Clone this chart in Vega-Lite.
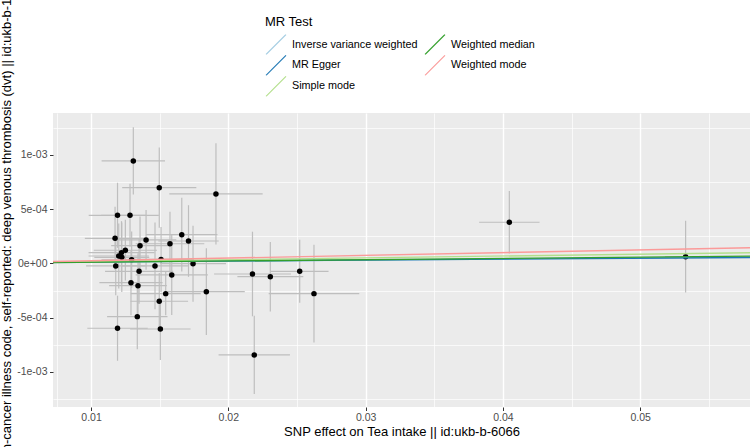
{
  "$schema": "https://vega.github.io/schema/vega-lite/v6.json",
  "width": 697,
  "height": 294,
  "autosize": {"type": "none"},
  "padding": {"left": 53, "top": 113, "right": 0, "bottom": 40},
  "background": "white",
  "config": {
    "view": {"fill": "#EBEBEB", "stroke": null},
    "font": "Liberation Sans",
    "axis": {
      "domain": false,
      "tickSize": 3.5,
      "tickColor": "#333333",
      "tickWidth": 1,
      "labelColor": "#4D4D4D",
      "labelFont": "Liberation Sans",
      "labelFontSize": 10.5,
      "titleFont": "Liberation Sans",
      "titleFontSize": 13,
      "titleFontWeight": "normal",
      "titleColor": "black",
      "gridColor": "white"
    }
  },
  "resolve": {"axis": {"y": "independent"}},
  "datasets": {
    "snps": [
      {"x": 0.01308, "y": 0.000945, "xlo": 0.01077, "xhi": 0.01539, "ylo": 0.000635, "yhi": 0.001255},
      {"x": 0.01497, "y": 0.000699, "xlo": 0.01227, "xhi": 0.01767, "ylo": 0.000329, "yhi": 0.001069},
      {"x": 0.0191, "y": 0.000641, "xlo": 0.0157, "xhi": 0.0225, "ylo": 0.000174, "yhi": 0.001108},
      {"x": 0.01193, "y": 0.000444, "xlo": 0.00983, "xhi": 0.01403, "ylo": 0.000144, "yhi": 0.000744},
      {"x": 0.01284, "y": 0.000444, "xlo": 0.01074, "xhi": 0.01494, "ylo": 0.000154, "yhi": 0.000734},
      {"x": 0.01175, "y": 0.000232, "xlo": 0.00955, "xhi": 0.01395, "ylo": -0.000058, "yhi": 0.000522},
      {"x": 0.01401, "y": 0.000217, "xlo": 0.01181, "xhi": 0.01621, "ylo": -0.000058, "yhi": 0.000492},
      {"x": 0.01357, "y": 0.000164, "xlo": 0.01147, "xhi": 0.01567, "ylo": -0.000106, "yhi": 0.000434},
      {"x": 0.01661, "y": 0.000265, "xlo": 0.01401, "xhi": 0.01921, "ylo": -0.000075, "yhi": 0.000605},
      {"x": 0.01575, "y": 0.000182, "xlo": 0.01325, "xhi": 0.01825, "ylo": -0.000113, "yhi": 0.000477},
      {"x": 0.0171, "y": 0.000207, "xlo": 0.0149, "xhi": 0.0193, "ylo": -0.000123, "yhi": 0.000537},
      {"x": 0.0125, "y": 0.000122, "xlo": 0.0102, "xhi": 0.0148, "ylo": -0.000158, "yhi": 0.000402},
      {"x": 0.01222, "y": 0.0001, "xlo": 0.00982, "xhi": 0.01462, "ylo": -0.00019, "yhi": 0.00039},
      {"x": 0.01202, "y": 0.000069, "xlo": 0.00982, "xhi": 0.01422, "ylo": -0.000231, "yhi": 0.000369},
      {"x": 0.01224, "y": 0.000057, "xlo": 0.01024, "xhi": 0.01424, "ylo": -0.000263, "yhi": 0.000377},
      {"x": 0.01296, "y": 0.000034, "xlo": 0.01076, "xhi": 0.01516, "ylo": -0.000226, "yhi": 0.000294},
      {"x": 0.0151, "y": 0.000037, "xlo": 0.0127, "xhi": 0.0175, "ylo": -0.000263, "yhi": 0.000337},
      {"x": 0.0118, "y": -0.000023, "xlo": 0.00964, "xhi": 0.01396, "ylo": -0.000293, "yhi": 0.000247},
      {"x": 0.0135, "y": -0.000072, "xlo": 0.01102, "xhi": 0.01598, "ylo": -0.000372, "yhi": 0.000228},
      {"x": 0.01466, "y": -0.000023, "xlo": 0.01226, "xhi": 0.01706, "ylo": -0.000423, "yhi": 0.000377},
      {"x": 0.01743, "y": -0.000002, "xlo": 0.01503, "xhi": 0.01983, "ylo": -0.000352, "yhi": 0.000348},
      {"x": 0.01588, "y": -0.000106, "xlo": 0.01325, "xhi": 0.01851, "ylo": -0.000476, "yhi": 0.000264},
      {"x": 0.01291, "y": -0.000177, "xlo": 0.01061, "xhi": 0.01521, "ylo": -0.000477, "yhi": 0.000123},
      {"x": 0.01342, "y": -0.000205, "xlo": 0.01132, "xhi": 0.01552, "ylo": -0.000505, "yhi": 0.000095},
      {"x": 0.01497, "y": -0.000348, "xlo": 0.01287, "xhi": 0.01707, "ylo": -0.000608, "yhi": -0.000088},
      {"x": 0.01544, "y": -0.000278, "xlo": 0.01289, "xhi": 0.01799, "ylo": -0.000478, "yhi": -0.000078},
      {"x": 0.0184, "y": -0.00026, "xlo": 0.0156, "xhi": 0.0212, "ylo": -0.00066, "yhi": 0.00014},
      {"x": 0.02176, "y": -0.000097, "xlo": 0.01896, "xhi": 0.02456, "ylo": -0.000487, "yhi": 0.000293},
      {"x": 0.02306, "y": -0.000122, "xlo": 0.02066, "xhi": 0.02546, "ylo": -0.000442, "yhi": 0.000198},
      {"x": 0.0252, "y": -0.000072, "xlo": 0.0231, "xhi": 0.0273, "ylo": -0.000362, "yhi": 0.000218},
      {"x": 0.02624, "y": -0.000278, "xlo": 0.02294, "xhi": 0.02954, "ylo": -0.000728, "yhi": 0.000172},
      {"x": 0.01337, "y": -0.00049, "xlo": 0.01117, "xhi": 0.01557, "ylo": -0.00079, "yhi": -0.00019},
      {"x": 0.01193, "y": -0.000597, "xlo": 0.00973, "xhi": 0.01413, "ylo": -0.000897, "yhi": -0.000297},
      {"x": 0.01505, "y": -0.000604, "xlo": 0.01285, "xhi": 0.01725, "ylo": -0.00089, "yhi": -0.000318},
      {"x": 0.02189, "y": -0.000843, "xlo": 0.01929, "xhi": 0.02449, "ylo": -0.001203, "yhi": -0.000483},
      {"x": 0.04047, "y": 0.00038, "xlo": 0.03827, "xhi": 0.04267, "ylo": 0.000093, "yhi": 0.000667},
      {"x": 0.05331, "y": 0.000063, "xlo": 0.05181, "xhi": 0.05481, "ylo": -0.000267, "yhi": 0.000393}
    ],
    "lines": [
      {"method": "Inverse variance weighted", "x": 0.00723, "y": 0.0000076},
      {"method": "Inverse variance weighted", "x": 0.058, "y": 0.000061},
      {"method": "MR Egger", "x": 0.00723, "y": 0.000012},
      {"method": "MR Egger", "x": 0.058, "y": 0.000055},
      {"method": "Simple mode", "x": 0.00723, "y": 0.0000123},
      {"method": "Simple mode", "x": 0.058, "y": 0.000099},
      {"method": "Weighted median", "x": 0.00723, "y": 0.0000084},
      {"method": "Weighted median", "x": 0.058, "y": 0.000067},
      {"method": "Weighted mode", "x": 0.00723, "y": 0.000018},
      {"method": "Weighted mode", "x": 0.058, "y": 0.000145}
    ]
  },
  "layer": [
    {
      "data": {"name": "snps"},
      "mark": {"type": "rule", "color": "#BEBEBE", "strokeWidth": 1.2, "clip": true},
      "encoding": {
        "x": {
          "field": "x", "type": "quantitative",
          "title": "SNP effect on Tea intake || id:ukb-b-6066",
          "scale": {"domain": [0.00723, 0.058], "nice": false, "zero": false},
          "axis": {
            "values": [0.0075, 0.01, 0.015, 0.02, 0.025, 0.03, 0.035, 0.04, 0.045, 0.05, 0.055],
            "labelExpr": "abs(datum.value*100 - round(datum.value*100)) > 0.01 ? '' : format(datum.value, '.2f')",
            "tickOpacity": {"condition": {"test": "abs(datum.value*100 - round(datum.value*100)) > 0.01", "value": 0}, "value": 1},
            "gridWidth": {"condition": {"test": "abs(datum.value*100 - round(datum.value*100)) > 0.01", "value": 0.7}, "value": 1.4},
            "labelPadding": 2,
            "titleY": 18.5,
            "labelFlush": false,
            "labelOverlap": false
          }
        },
        "y": {
          "field": "ylo", "type": "quantitative",
          "scale": {"domain": [-0.001323, 0.001387], "nice": false, "zero": false},
          "axis": null
        },
        "y2": {"field": "yhi"}
      }
    },
    {
      "data": {"name": "snps"},
      "mark": {"type": "rule", "color": "#BEBEBE", "strokeWidth": 1.2, "clip": true},
      "encoding": {
        "x": {"field": "xlo", "type": "quantitative", "title": "SNP effect on Tea intake || id:ukb-b-6066", "scale": {"domain": [0.00723, 0.058], "nice": false, "zero": false}},
        "x2": {"field": "xhi"},
        "y": {"field": "y", "type": "quantitative", "scale": {"domain": [-0.001323, 0.001387], "nice": false, "zero": false}, "axis": null}
      }
    },
    {
      "data": {"name": "snps"},
      "mark": {"type": "point", "filled": true, "color": "black", "size": 30, "opacity": 1},
      "encoding": {
        "x": {"field": "x", "type": "quantitative", "title": "SNP effect on Tea intake || id:ukb-b-6066", "scale": {"domain": [0.00723, 0.058], "nice": false, "zero": false}},
        "y": {
          "field": "y", "type": "quantitative",
          "title": "SNP effect on Non-cancer illness code, self-reported: deep venous thrombosis (dvt) || id:ukb-b-12040",
          "scale": {"domain": [-0.001323, 0.001387], "nice": false, "zero": false},
          "axis": {
            "orient": "left",
            "values": [-0.001, -0.0005, 0, 0.0005, 0.001],
            "labelExpr": "abs(datum.value-0.001)<1e-9 ? '1e-03' : abs(datum.value-0.0005)<1e-9 ? '5e-04' : abs(datum.value)<1e-9 ? '0e+00' : abs(datum.value+0.0005)<1e-9 ? '-5e-04' : '-1e-03'",
            "gridWidth": 1.4,
            "labelPadding": 2.5,
            "titleX": -40,
            "titleY": 147,
            "titleLimit": 2000,
            "labelFlush": false,
            "labelOverlap": false
          }
        }
      }
    },
    {
      "data": {"name": "lines"},
      "mark": {"type": "line", "strokeWidth": 1.3, "clip": true},
      "encoding": {
        "x": {"field": "x", "type": "quantitative", "title": "SNP effect on Tea intake || id:ukb-b-6066", "scale": {"domain": [0.00723, 0.058], "nice": false, "zero": false}},
        "y": {
          "field": "y", "type": "quantitative",
          "scale": {"domain": [-0.001323, 0.001387], "nice": false, "zero": false},
          "axis": {
            "orient": "right",
            "values": [-0.00125, -0.00075, -0.00025, 0.00025, 0.00075, 0.00125],
            "labels": false,
            "ticks": false,
            "domain": false,
            "title": null,
            "grid": true,
            "gridWidth": 0.7
          }
        },
        "color": {
          "field": "method", "type": "nominal",
          "scale": {
            "domain": ["Inverse variance weighted", "MR Egger", "Simple mode", "Weighted median", "Weighted mode"],
            "range": ["#a6cee3", "#1f78b4", "#b2df8a", "#33a02c", "#fb9a99"]
          },
          "legend": {
            "title": "MR Test",
            "orient": "none",
            "legendX": 212,
            "legendY": -97,
            "columns": 2,
            "symbolType": "M-1,1L1,-1",
            "symbolSize": 400,
            "symbolStrokeWidth": 1.1,
            "symbolFillColor": "transparent",
            "clipHeight": 20.7,
            "labelFont": "Liberation Sans",
            "labelFontSize": 10.8,
            "labelColor": "black",
            "labelOffset": 5,
            "labelLimit": 400,
            "rowPadding": 0,
            "columnPadding": 6,
            "titleFont": "Liberation Sans",
            "titleFontSize": 13,
            "titleFontWeight": "normal",
            "titleColor": "black",
            "titlePadding": 5,
            "padding": 0
          }
        }
      }
    }
  ]
}
